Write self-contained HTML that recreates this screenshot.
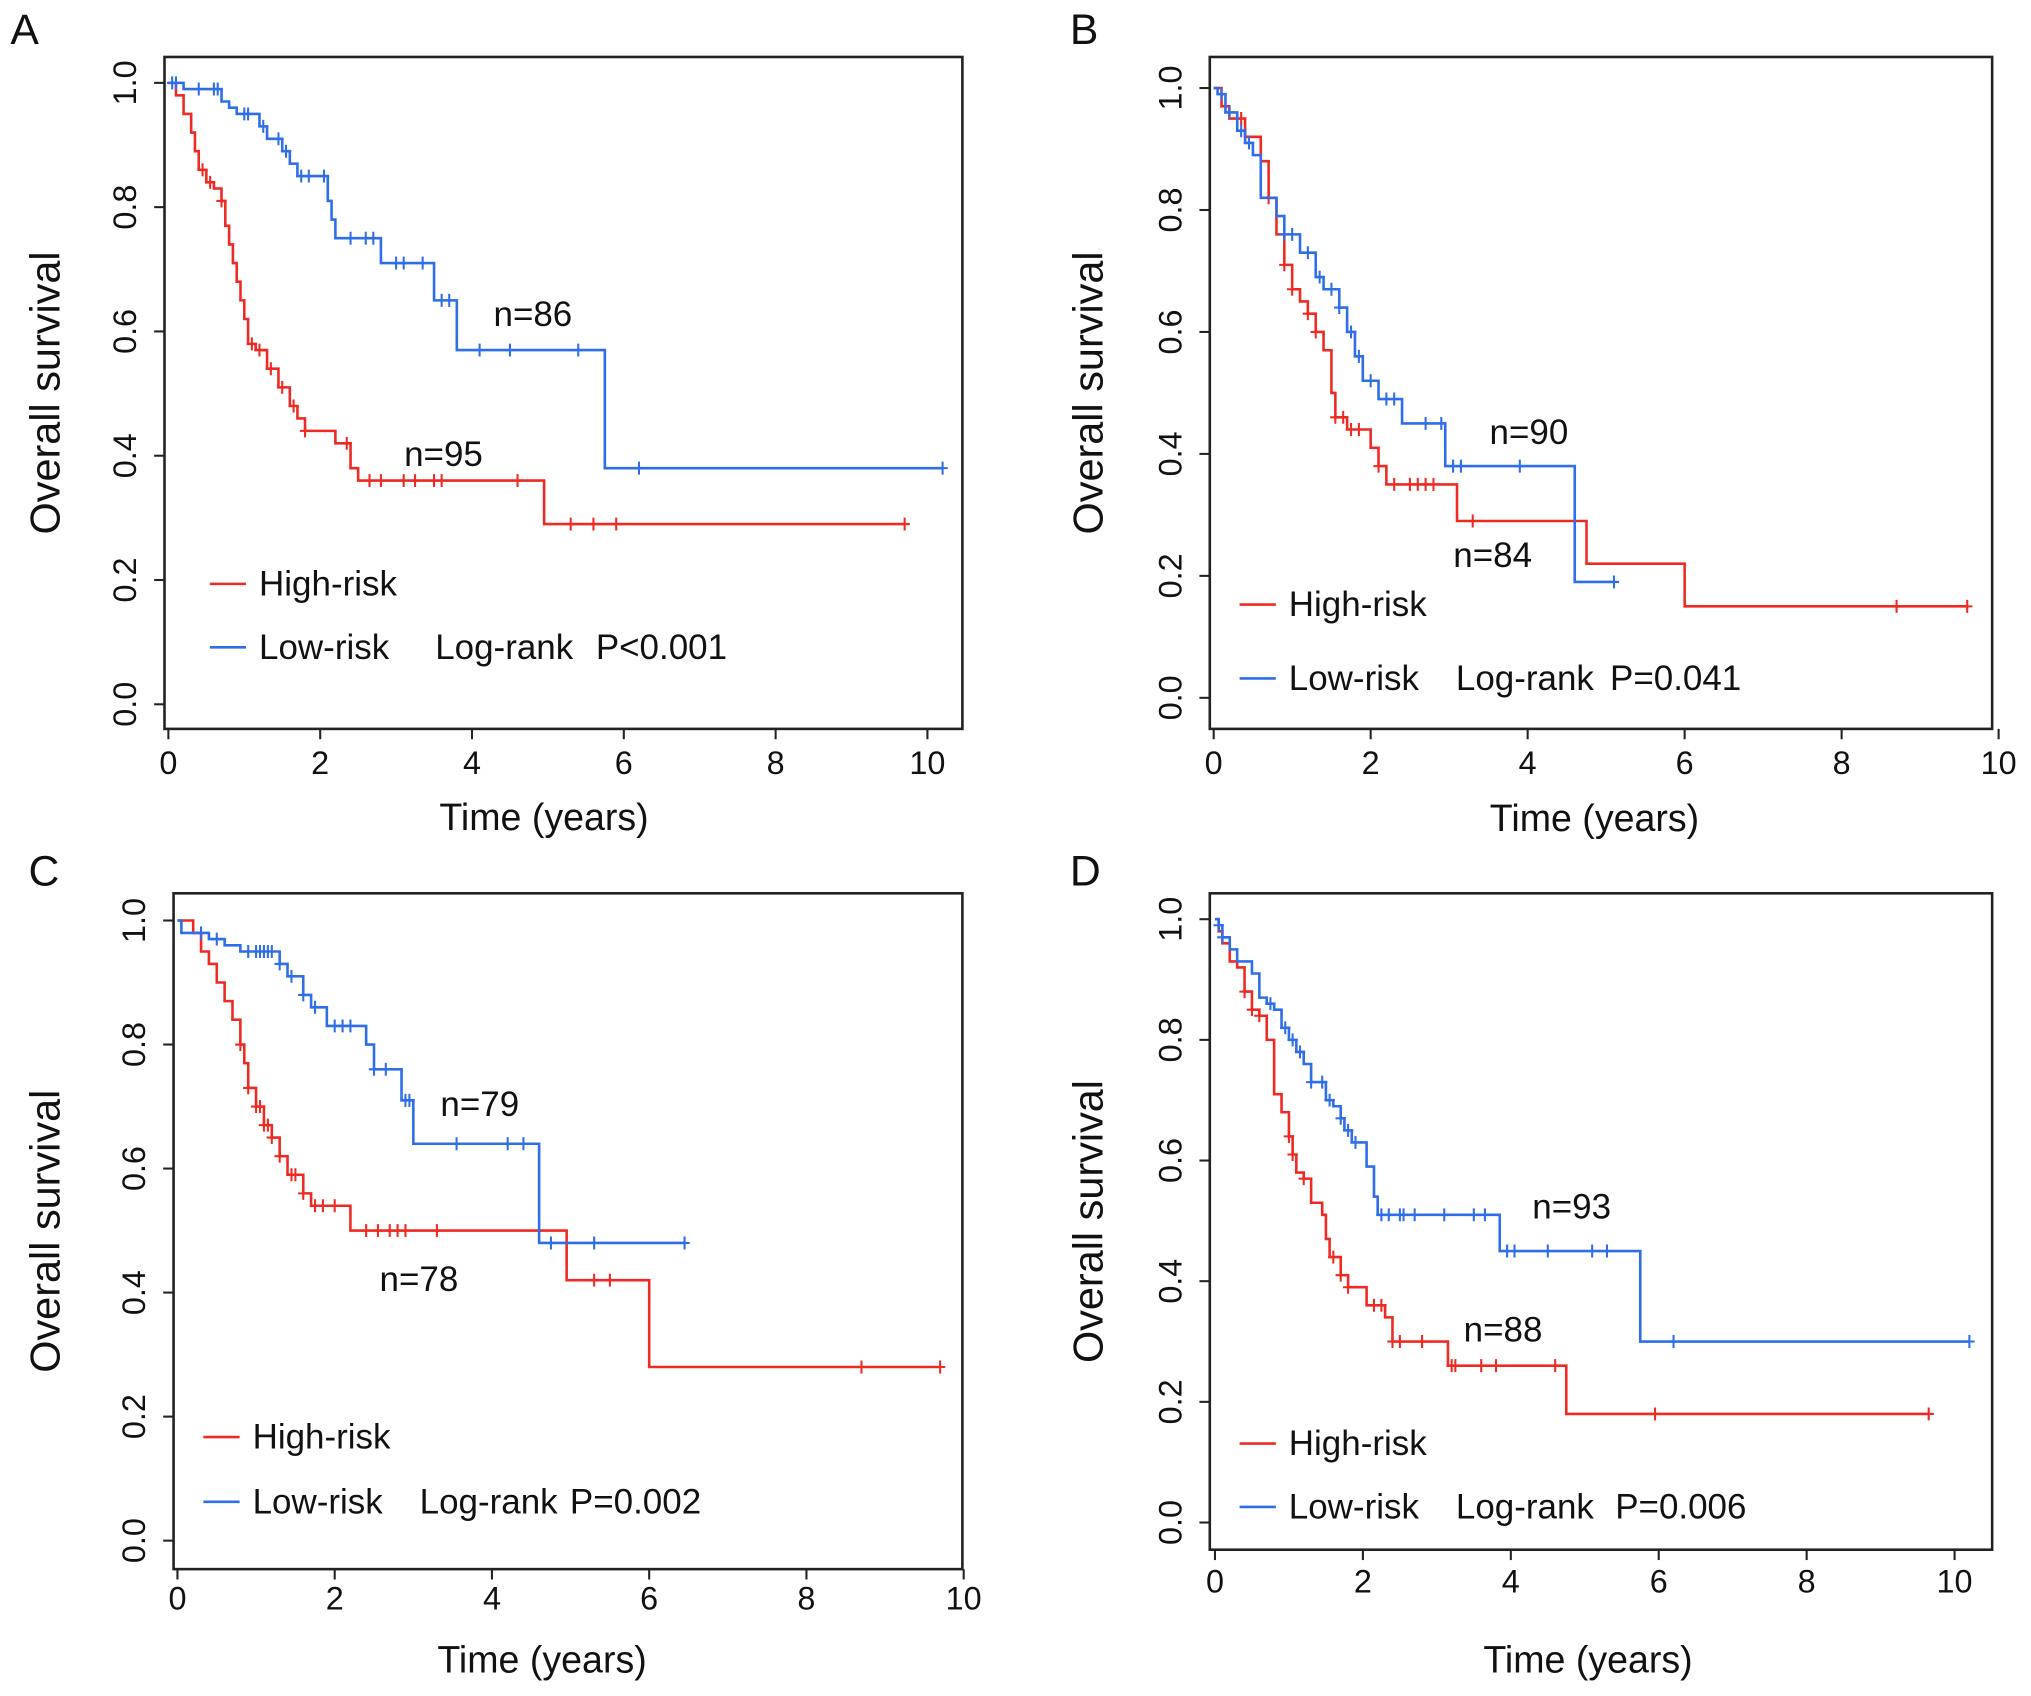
<!DOCTYPE html>
<html><head><meta charset="utf-8"><style>
html,body{margin:0;padding:0;background:#fff}
svg{display:block}
text{font-family:"Liberation Sans",Arial,sans-serif;fill:#111}
</style></head><body>
<svg id="fig" width="2031" height="1696" viewBox="0 0 1568 1310" preserveAspectRatio="none" xmlns="http://www.w3.org/2000/svg"></svg>
<script>
// ---- data (time in years, survival probability) ----
const xTicks=[0,2,4,6,8,10];
const yTicks=[0,0.2,0.4,0.6,0.8,1.0];
const yTickLabels=["0.0","0.2","0.4","0.6","0.8","1.0"];

const aHighT=[0.1,0.2,0.3,0.35,0.4,0.5,0.6,0.7,0.75,0.8,0.85,0.9,0.95,1.0,1.05,1.15,1.3,1.45,1.6,1.7,1.8,2.2,2.4,2.5,4.95];
const aHighS=[0.98,0.95,0.92,0.89,0.86,0.84,0.83,0.81,0.77,0.74,0.71,0.68,0.65,0.62,0.58,0.57,0.54,0.51,0.48,0.46,0.44,0.42,0.38,0.36,0.29];
const aHighC=[0.45,0.55,0.7,1.1,1.2,1.35,1.5,1.65,1.8,2.35,2.65,2.8,3.1,3.25,3.5,3.6,4.6,5.3,5.6,5.9,9.7];
const aLowT=[0.2,0.7,0.8,0.9,1.2,1.3,1.5,1.6,1.7,2.1,2.15,2.2,2.8,3.5,3.8,5.75];
const aLowS=[0.99,0.97,0.96,0.95,0.93,0.91,0.89,0.87,0.85,0.81,0.78,0.75,0.71,0.65,0.57,0.38];
const aLowC=[0.05,0.1,0.4,0.6,0.65,1.0,1.05,1.25,1.45,1.55,1.75,1.85,2.05,2.4,2.6,2.7,3.0,3.1,3.35,3.6,3.7,4.1,4.5,5.4,6.2,10.2];

const bHighT=[0.1,0.2,0.4,0.6,0.7,0.8,0.9,1.0,1.1,1.2,1.3,1.4,1.5,1.55,1.7,2.0,2.1,2.2,3.1,4.75,6.0];
const bHighS=[0.97,0.95,0.92,0.88,0.82,0.76,0.71,0.67,0.65,0.63,0.60,0.57,0.50,0.46,0.44,0.41,0.38,0.35,0.29,0.22,0.15];
const bHighC=[0.35,0.7,0.9,1.0,1.2,1.3,1.55,1.65,1.75,1.85,2.1,2.3,2.5,2.6,2.7,2.8,3.3,8.7,9.6];
const bLowT=[0.05,0.15,0.3,0.4,0.5,0.6,0.8,0.9,1.1,1.3,1.4,1.6,1.7,1.8,1.9,2.1,2.4,2.95,4.6];
const bLowS=[0.99,0.96,0.93,0.91,0.89,0.82,0.79,0.76,0.73,0.69,0.67,0.64,0.60,0.56,0.52,0.49,0.45,0.38,0.19];
const bLowC=[0.1,0.2,0.35,0.45,0.9,1.0,1.2,1.35,1.5,1.6,1.75,1.85,2.0,2.2,2.3,2.7,2.9,3.05,3.15,3.9,5.1];

const cHighT=[0.2,0.3,0.4,0.5,0.6,0.7,0.8,0.85,0.9,1.0,1.1,1.2,1.3,1.4,1.6,1.7,2.2,4.95,6.0];
const cHighS=[0.98,0.95,0.93,0.90,0.87,0.84,0.80,0.77,0.73,0.70,0.67,0.65,0.62,0.59,0.56,0.54,0.50,0.42,0.28];
const cHighC=[0.8,0.9,1.0,1.05,1.1,1.15,1.2,1.3,1.45,1.5,1.6,1.75,1.85,2.0,2.4,2.55,2.7,2.8,2.9,3.3,5.3,5.5,8.7,9.7];
const cLowT=[0.05,0.4,0.6,0.8,1.3,1.4,1.6,1.7,1.9,2.4,2.5,2.85,3.0,4.6];
const cLowS=[0.98,0.97,0.96,0.95,0.93,0.91,0.88,0.86,0.83,0.80,0.76,0.71,0.64,0.48];
const cLowC=[0.3,0.5,0.9,1.0,1.05,1.1,1.15,1.2,1.3,1.45,1.6,1.75,2.0,2.1,2.2,2.5,2.65,2.9,2.95,3.55,4.2,4.4,4.75,5.3,6.45];

const dHighT=[0.05,0.1,0.2,0.3,0.4,0.5,0.6,0.7,0.8,0.9,1.0,1.05,1.1,1.2,1.3,1.45,1.5,1.55,1.7,1.8,2.05,2.3,2.4,3.15,4.75];
const dHighS=[0.98,0.96,0.93,0.92,0.88,0.85,0.84,0.80,0.71,0.68,0.64,0.61,0.58,0.57,0.53,0.51,0.47,0.44,0.41,0.39,0.36,0.34,0.30,0.26,0.18];
const dHighC=[0.4,0.5,0.6,1.0,1.05,1.2,1.6,1.7,1.8,2.15,2.25,2.4,2.5,2.8,3.2,3.25,3.6,3.8,4.6,5.95,9.65];
const dLowT=[0.05,0.1,0.2,0.3,0.5,0.6,0.7,0.8,0.9,1.0,1.1,1.2,1.3,1.5,1.6,1.7,1.75,1.85,2.05,2.15,2.2,3.85,5.75];
const dLowS=[0.99,0.97,0.95,0.93,0.91,0.87,0.86,0.85,0.82,0.80,0.78,0.76,0.73,0.70,0.69,0.67,0.65,0.63,0.59,0.54,0.51,0.45,0.30];
const dLowC=[0.05,0.1,0.75,0.95,1.05,1.15,1.3,1.45,1.55,1.7,1.8,1.9,2.25,2.35,2.5,2.55,2.7,3.1,3.5,3.65,3.95,4.05,4.5,5.1,5.3,6.2,10.2];

const panels=[
 {id:"a",letter:"A",box:[127,44,743,563],x0:130,x10:716,y1:64,y0:544,ylx:35,tickY:598,xlabY:641,
  legX:162,legHY:451,legLY:500,lrX:336,pX:460,p:"P<0.001",nLow:"n=86",nLowXY:[381,243],nHigh:"n=95",nHighXY:[312,351],letXY:[8,34],
  hT:aHighT,hS:aHighS,hC:aHighC,lT:aLowT,lS:aLowS,lC:aLowC},
 {id:"b",letter:"B",box:[934,44,1538,563],x0:937,x10:1543,y1:68,y0:539,ylx:840,tickY:598,xlabY:642,
  legX:957,legHY:467,legLY:524,lrX:1124,pX:1243,p:"P=0.041",nLow:"n=90",nLowXY:[1150,334],nHigh:"n=84",nHighXY:[1122,429],letXY:[826,34],
  hT:bHighT,hS:bHighS,hC:bHighC,lT:bLowT,lS:bLowS,lC:bLowC},
 {id:"c",letter:"C",box:[134,690,743,1212],x0:137,x10:744,y1:711,y0:1190,ylx:35,tickY:1243,xlabY:1292,
  legX:157,legHY:1110,legLY:1160,lrX:324,pX:440,p:"P=0.002",nLow:"n=79",nLowXY:[340,853],nHigh:"n=78",nHighXY:[293,988],letXY:[22,684],
  hT:cHighT,hS:cHighS,hC:cHighC,lT:cLowT,lS:cLowS,lC:cLowC},
 {id:"d",letter:"D",box:[934,690,1538,1197],x0:938,x10:1509,y1:710,y0:1176,ylx:840,tickY:1230,xlabY:1292,
  legX:957,legHY:1115,legLY:1164,lrX:1124,pX:1247,p:"P=0.006",nLow:"n=93",nLowXY:[1183,932],nHigh:"n=88",nHighXY:[1130,1027],letXY:[826,684],
  hT:dHighT,hS:dHighS,hC:dHighC,lT:dLowT,lS:dLowS,lC:dLowC}
];

const NS="http://www.w3.org/2000/svg";
const svg=document.getElementById('fig');
function mk(tag,attrs,parent,txt){const e=document.createElementNS(NS,tag);for(const k in attrs)e.setAttribute(k,attrs[k]);if(txt!==undefined)e.textContent=txt;parent.appendChild(e);return e;}
function survAt(T,S,t){let s=1;for(let i=0;i<T.length;i++){if(T[i]<=t)s=S[i];}return s;}

panels.forEach(p=>{
  const g=mk('g',{},svg);
  
  
  const xs=t=>p.x0+(p.x10-p.x0)*t/10;
  const ys=v=>p.y0+(p.y1-p.y0)*v;
  const [bl,bt,br,bb]=p.box;
  const box=mk('rect',{x:bl,y:bt,width:br-bl,height:bb-bt,fill:'none',stroke:'#222','stroke-width':2},g);
  
  
  const let_=mk('text',{x:p.letXY[0],y:p.letXY[1],'font-size':33},g,p.letter);
  
  
  xTicks.forEach(t=>{
    mk('line',{x1:xs(t),x2:xs(t),y1:bb,y2:bb+8,stroke:'#222','stroke-width':1.6},g);
    const tl=mk('text',{x:xs(t),y:p.tickY,'font-size':25,'text-anchor':'middle'},g,String(t));
    
    
  });
  const xl=mk('text',{x:(bl+br)/2+(p.id==='d'?-10:(p.id==='a'?-15:(p.id==='c'?-20:-5))),y:p.xlabY,'font-size':29,'text-anchor':'middle'},g,'Time (years)');
  
  
  yTicks.forEach((v,i)=>{
    mk('line',{x1:bl-8,x2:bl,y1:ys(v),y2:ys(v),stroke:'#222','stroke-width':1.6},g);
    const tx=bl-22;
    const tl=mk('text',{x:tx,y:ys(v),'font-size':25,'text-anchor':'middle',transform:`rotate(-90 ${tx} ${ys(v)})`},g,yTickLabels[i]);
    
    
  });
  const ym=(bt+bb)/2;
  const yl=mk('text',{x:p.ylx+11,y:ym,'font-size':32,'text-anchor':'middle',transform:`rotate(-90 ${p.ylx+11} ${ym})`},g,'Overall survival');
  
  
  function curve(T,S,C,color,name){
    const end=C[C.length-1];
    let d=`M${xs(0)},${ys(1)}`;
    T.forEach((t,i)=>{d+=` H${xs(t)} V${ys(S[i])}`;});
    d+=` H${xs(Math.max(end,T[T.length-1]))}`;
    const path=mk('path',{d:d,fill:'none',stroke:color,'stroke-width':2},g);
    
    
    C.forEach(c=>{
      const y=ys(survAt(T,S,c));
      const m=mk('path',{d:`M${xs(c)},${y-5} V${y+5} M${xs(c)-4},${y} H${xs(c)+4}`,stroke:color,'stroke-width':1.6,fill:'none'},g);
      
      
    });
  }
  curve(p.hT,p.hS,p.hC,'#ee2a24','high-risk');
  curve(p.lT,p.lS,p.lC,'#2f6ee8','low-risk');
  const lg=mk('g',{},g);
  
  
  mk('line',{x1:p.legX,x2:p.legX+28,y1:p.legHY,y2:p.legHY,stroke:'#ee2a24','stroke-width':2},lg);
  mk('text',{x:p.legX+38,y:p.legHY+9,'font-size':27},lg,'High-risk');
  mk('line',{x1:p.legX,x2:p.legX+28,y1:p.legLY,y2:p.legLY,stroke:'#2f6ee8','stroke-width':2},lg);
  mk('text',{x:p.legX+38,y:p.legLY+9,'font-size':27},lg,'Low-risk');
  mk('text',{x:p.lrX,y:p.legLY+9,'font-size':27},lg,'Log-rank');
  mk('text',{x:p.pX,y:p.legLY+9,'font-size':27},lg,p.p);
  const n1=mk('text',{x:p.nLowXY[0],y:p.nLowXY[1]+9,'font-size':27},g,p.nLow);
  
  
  const n2=mk('text',{x:p.nHighXY[0],y:p.nHighXY[1]+9,'font-size':27},g,p.nHigh);
  
  
});
</script>
</body></html>
